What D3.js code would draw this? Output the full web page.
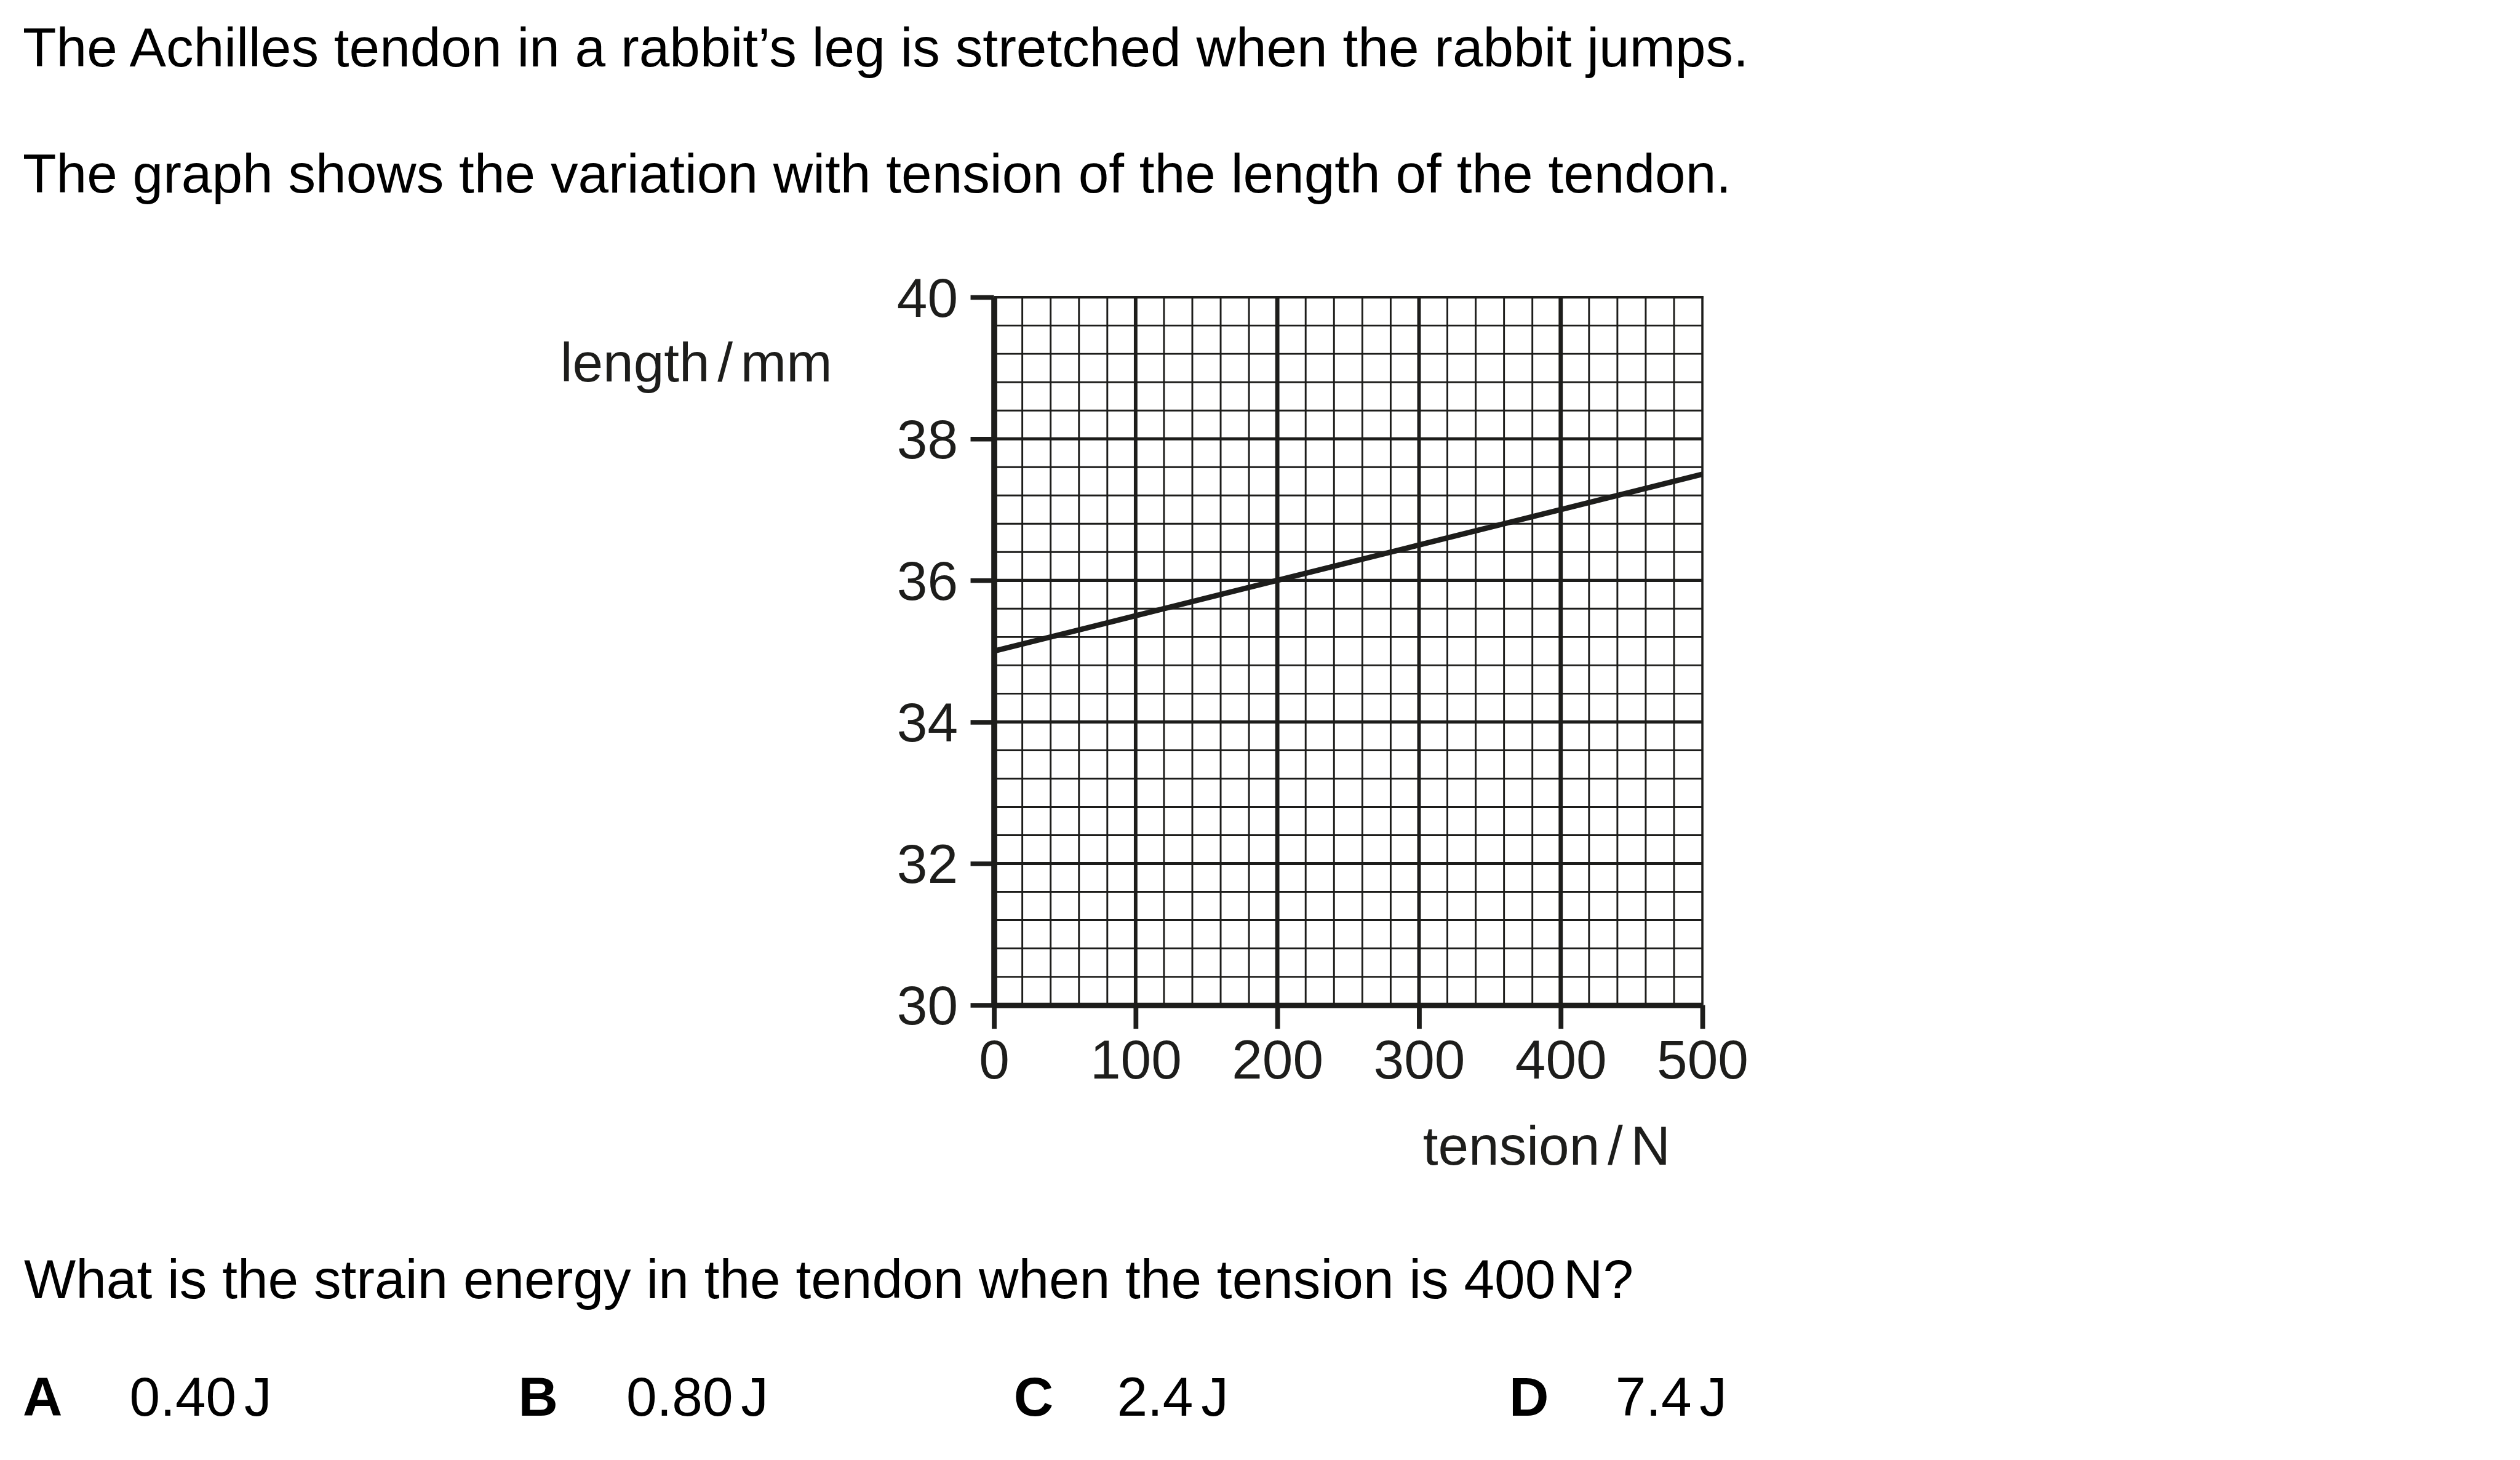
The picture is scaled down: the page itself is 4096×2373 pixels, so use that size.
<!DOCTYPE html>
<html>
<head>
<meta charset="utf-8">
<script src="https://cdn.jsdelivr.net/npm/d3@7"></script>
<style>
html,body{margin:0;padding:0;background:#fff;overflow:hidden}
svg{display:block}
</style>
</head>
<body>
<script>
// ---- data ----
const tension = [0, 100, 200, 300, 400, 500];          // N
const lengthMm = [35.0, 35.5, 36.0, 36.5, 37.0, 37.5];  // mm
const xTicks = [0, 100, 200, 300, 400, 500];
const yTicks = [30, 32, 34, 36, 38, 40];
const xDomain = [0, 500];
const yDomain = [30, 40];
const xMinorStep = 20;     // N per small square
const yMinorStep = 0.4;    // mm per small square
const introLines = [
  "The Achilles tendon in a rabbit\u2019s leg is stretched when the rabbit jumps.",
  "The graph shows the variation with tension of the length of the tendon."
];
const yLabel = ["length", "/", "mm"];
const xLabel = ["tension", "/", "N"];
const question = ["What is the strain energy in the tendon when the tension is 400", "N?"];
const optionLetters = ["A", "B", "C", "D"];
const optionValues = [["0.40", "J"], ["0.80", "J"], ["2.4", "J"], ["7.4", "J"]];

// ---- drawing ----
const FONT = '"Liberation Sans", Arial, Helvetica, sans-serif';
const FS = 91.5;
const INK = "#1d1d1b";

const svg = d3.select("body").append("svg")
  .attr("width", 4096).attr("height", 2373);
svg.append("rect").attr("width", 4096).attr("height", 2373).attr("fill", "#fff");
const root = svg.append("g").attr("transform", "scale(0.975)");

const x = d3.scaleLinear().domain(xDomain).range([1657, 2838]);
const y = d3.scaleLinear().domain(yDomain).range([1675.5, 495.5]);

// grid
const grid = root.append("g").attr("stroke", INK).attr("fill", "none");
const nx = Math.round((xDomain[1] - xDomain[0]) / xMinorStep);
const ny = Math.round((yDomain[1] - yDomain[0]) / yMinorStep);
const vVals = d3.range(1, nx).map(i => xDomain[0] + i * xMinorStep);
const hIdx = d3.range(1, ny);

grid.selectAll("line.v").data(vVals).join("line").attr("class", "v")
  .attr("x1", d => x(d)).attr("x2", d => x(d))
  .attr("y1", y(yDomain[1])).attr("y2", y(yDomain[0]))
  .attr("stroke-width", d => d % 200 === 0 ? 7 : (d % 100 === 0 ? 6 : 3));

grid.selectAll("line.h").data(hIdx).join("line").attr("class", "h")
  .attr("y1", i => y(yDomain[0] + i * yMinorStep)).attr("y2", i => y(yDomain[0] + i * yMinorStep))
  .attr("x1", x(xDomain[0])).attr("x2", x(xDomain[1]))
  .attr("stroke-width", i => i % 5 === 0 ? 5.3 : 3);

// top and right borders
grid.append("line")
  .attr("x1", x(xDomain[0])).attr("x2", x(xDomain[1]) + 1.8)
  .attr("y1", y(yDomain[1])).attr("y2", y(yDomain[1]))
  .attr("stroke-width", 4.3);
grid.append("line")
  .attr("x1", x(xDomain[1])).attr("x2", x(xDomain[1]))
  .attr("y1", y(yDomain[1]) - 2).attr("y2", y(yDomain[0]))
  .attr("stroke-width", 3.7);

// data line
const line = d3.line().x((d, i) => x(tension[i])).y(d => y(d));
root.append("path").datum(lengthMm)
  .attr("d", line)
  .attr("fill", "none").attr("stroke", INK).attr("stroke-width", 9);

// axes
const yAxis = d3.axisLeft(y).tickValues(yTicks).tickSize(39).tickSizeOuter(0).tickPadding(21)
  .tickFormat(d3.format("d"));
const gy = root.append("g").attr("transform", `translate(${x(xDomain[0])},0)`).call(yAxis);
const xAxis = d3.axisBottom(x).tickValues(xTicks).tickSize(39.5).tickSizeOuter(0).tickPadding(18)
  .tickFormat(d3.format("d"));
const gx = root.append("g").attr("transform", `translate(0,${y(yDomain[0])})`).call(xAxis);

[gy, gx].forEach(g => {
  g.attr("font-family", FONT).attr("font-size", FS).style("color", INK);
  g.selectAll("text").attr("fill", INK);
});
gy.select(".domain").attr("stroke-width", 10);
gy.selectAll(".tick line").attr("stroke-width", 7.7);
gy.selectAll(".tick text").attr("dy", "0.35em");
gx.select(".domain").attr("stroke-width", 9);
gx.selectAll(".tick line").attr("stroke-width", 8);
gx.selectAll(".tick text").attr("dy", "0.71em");

// axis labels
function labelText(parent, parts, px, py, fill) {
  const t = parent.append("text").attr("x", px).attr("y", py)
    .attr("font-family", FONT).attr("font-size", FS).attr("fill", fill);
  parts.forEach((p, i) => {
    t.append("tspan").attr("dx", i === 0 ? 0 : 13).text(p);
  });
  return t;
}
labelText(root, yLabel, 934, 636, INK);
labelText(root, xLabel, 2372, 1942, INK);

// intro text
const introY = [110.7, 320.7];
introLines.forEach((s, i) => {
  root.append("text").attr("x", 38).attr("y", introY[i])
    .attr("font-family", FONT).attr("font-size", FS).attr("fill", "#000").text(s);
});

// question
labelText(root, question, 40, 2164, "#000");

// options
const letterX = [38, 864, 1690, 2516];
const valueX = [216, 1044, 1862, 2693];
optionLetters.forEach((L, i) => {
  root.append("text").attr("x", letterX[i]).attr("y", 2360)
    .attr("font-family", FONT).attr("font-size", FS).attr("font-weight", "bold")
    .attr("fill", "#000").text(L);
  labelText(root, optionValues[i], valueX[i], 2360, "#000");
});
</script>
</body>
</html>
